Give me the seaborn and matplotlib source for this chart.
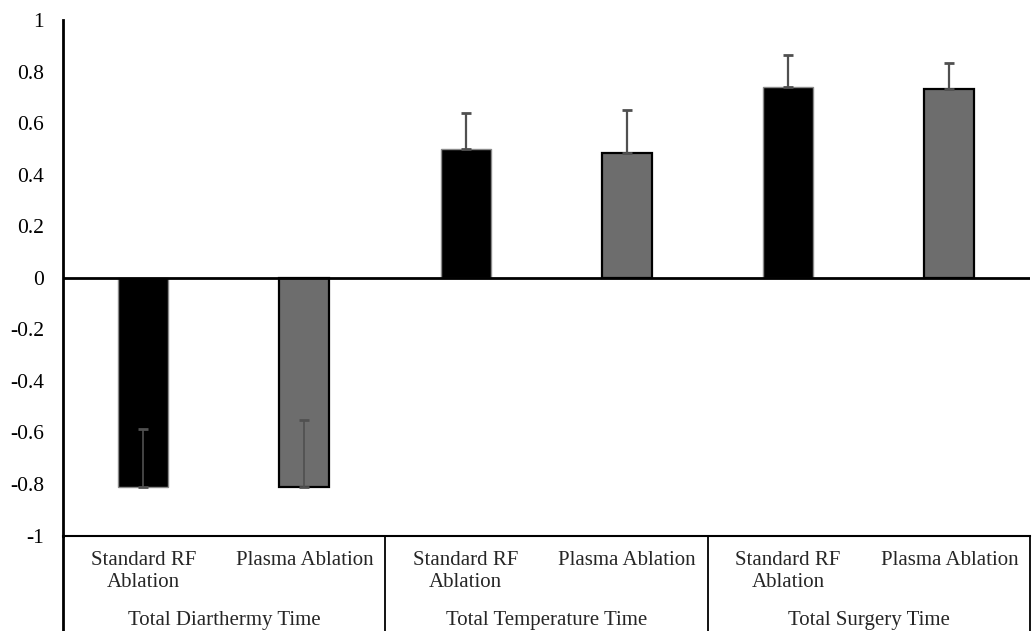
import matplotlib
matplotlib.use('Agg')
import matplotlib.pyplot as plt
import seaborn as sns
import pandas as pd

# values
measures = ['Total Diarthermy Time', 'Total Temperature Time', 'Total Surgery Time']
methods = ['Standard RF\nAblation', 'Plasma Ablation']
rf_means = [-0.81, 0.50, 0.74]
rf_err = [0.224, 0.138, 0.126]
plasma_means = [-0.81, 0.485, 0.734]
plasma_err = [0.26, 0.167, 0.099]
y_ticks = [-1, -0.8, -0.6, -0.4, -0.2, 0, 0.2, 0.4, 0.6, 0.8, 1]
y_tick_labels = ['-1', '-0.8', '-0.6', '-0.4', '-0.2', '0', '0.2', '0.4', '0.6', '0.8', '1']

rows = []
for m, rv, re_, pv, pe in zip(measures, rf_means, rf_err, plasma_means, plasma_err):
    rows.append({'measure': m, 'method': methods[0], 'value': rv, 'err': re_})
    rows.append({'measure': m, 'method': methods[1], 'value': pv, 'err': pe})
df = pd.DataFrame(rows)
df['slot'] = df['measure'] + ' | ' + df['method']

sns.set_theme(style='white')
serif = ['Liberation Serif', 'DejaVu Serif']
plt.rcParams['font.family'] = serif

fig = plt.figure(figsize=(10.34, 6.31), dpi=100)
ax = fig.add_axes([0.0606, 0.1513, 0.9355, 0.8170])

palette = {methods[0]: '#000000', methods[1]: '#6d6d6d'}
sns.barplot(data=df, x='slot', y='value', hue='method', palette=palette,
            dodge=False, width=0.31, errorbar=None, legend=False,
            saturation=1, ax=ax)

# style bar edges and add upward error bars
for p in ax.patches:
    xc = p.get_x() + p.get_width() / 2
    idx = int(round(xc))
    row = df.iloc[idx]
    if row['method'] == methods[0]:
        p.set_edgecolor('#8a8a8a')
        p.set_linewidth(1.0)
    else:
        p.set_edgecolor('#000000')
        p.set_linewidth(1.6)
    top = p.get_y() + p.get_height()
    lw = 1.2 if row['value'] < 0 else 1.6
    ax.errorbar(xc, top, yerr=[[0], [row['err']]], fmt='none',
                ecolor='#505050', elinewidth=lw, capsize=3.8, capthick=2, zorder=3)

ax.axhline(0, color='black', lw=2, zorder=4)

ax.set_ylim(-1, 1)
ax.set_xlim(-0.5, len(df) - 0.5)
ax.set_yticks(y_ticks)
ax.set_yticklabels(y_tick_labels, fontfamily=serif, fontsize=15.5)
ax.tick_params(axis='y', length=0, pad=13.5, colors='black')
ax.set_xticks([])
ax.set_xlabel('')
ax.set_ylabel('')

for s in ['top', 'right']:
    ax.spines[s].set_visible(False)
ax.spines['left'].set_color('black')
ax.spines['left'].set_linewidth(2)
ax.spines['bottom'].set_color('black')
ax.spines['bottom'].set_linewidth(1.5)

# category table below the axis
trans = ax.get_xaxis_transform()
n_meth = len(methods)
for k in range(len(measures) + 1):
    xb = k * n_meth - 0.5
    lw = 2 if k == 0 else 1.3
    ax.plot([xb, xb], [0, -0.3], transform=trans, color='black', lw=lw, clip_on=False)

for i, row in df.iterrows():
    ax.annotate(row['method'], xy=(i, 0), xycoords=trans, xytext=(0, -11),
                textcoords='offset points', ha='center', va='top', family=serif,
                fontsize=15, linespacing=1.25, annotation_clip=False)

for k, m in enumerate(measures):
    xc = k * n_meth + (n_meth - 1) / 2
    ax.annotate(m, xy=(xc, 0), xycoords=trans, xytext=(0, -64.5),
                textcoords='offset points', ha='center', va='baseline',
                family=serif, fontsize=15, annotation_clip=False)

fig.savefig('out.png', dpi=100)
